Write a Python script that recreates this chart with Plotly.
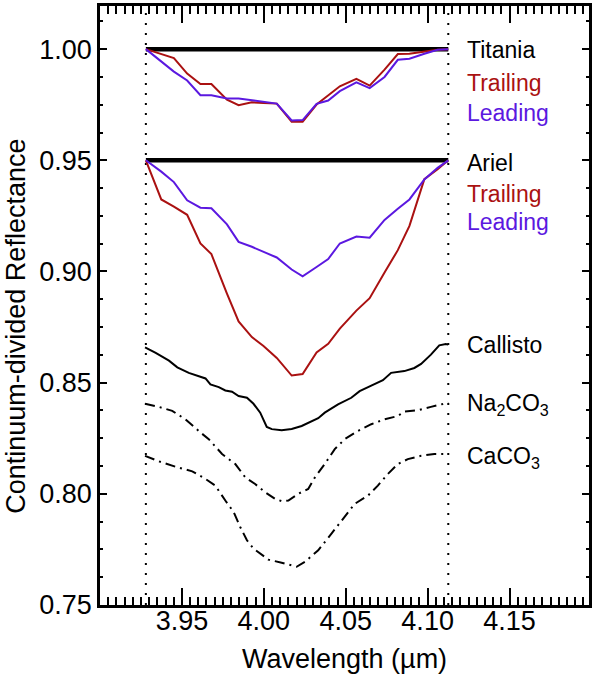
import plotly.graph_objects as go

FONT = "Liberation Sans, Arial, Helvetica, sans-serif"

# Band limits (continuum anchor points, dotted lines), micrometres
BAND_MIN = 3.928
BAND_MAX = 4.1126

# Uranian satellites: common wavelength grid
wl_uranian = [3.928, 3.9374, 3.9451, 3.9532, 3.9613, 3.9680, 3.9775, 3.9846,
              3.9927, 3.9998, 4.0079, 4.0170, 4.0237, 4.0322, 4.0393, 4.0464,
              4.0565, 4.0646, 4.0737, 4.0818, 4.0889, 4.0980, 4.1061, 4.1126]

titania_trailing = [1.0, 0.9978, 0.9960, 0.9890, 0.9843, 0.9843, 0.9773, 0.9748,
                    0.9761, 0.9758, 0.9755, 0.9673, 0.9673, 0.9751, 0.9793, 0.9833,
                    0.9866, 0.9836, 0.9908, 0.9978, 0.9979, 0.9990, 0.9997, 1.0]
titania_leading = [1.0, 0.9944, 0.9899, 0.9859, 0.9793, 0.9793, 0.9778, 0.9778,
                   0.9769, 0.9761, 0.9755, 0.9679, 0.9681, 0.9754, 0.9769, 0.9811,
                   0.9851, 0.9825, 0.9875, 0.9952, 0.9957, 0.9979, 0.9997, 1.0]

ariel_trailing = [0.95, 0.9324, 0.9292, 0.9255, 0.9126, 0.9078, 0.8900, 0.8775,
                  0.8705, 0.8665, 0.8611, 0.8532, 0.8539, 0.8636, 0.8675, 0.8743,
                  0.8824, 0.8880, 0.8995, 0.9096, 0.9205, 0.9415, 0.9460, 0.95]
ariel_leading = [0.95, 0.9449, 0.9402, 0.9320, 0.9287, 0.9284, 0.9212, 0.9133,
                 0.9111, 0.9088, 0.9063, 0.9009, 0.8978, 0.9020, 0.9056, 0.9126,
                 0.9157, 0.9152, 0.9232, 0.9282, 0.9324, 0.9414, 0.9466, 0.95]

titania_continuum = [1.0, 1.0]
ariel_continuum = [0.95, 0.95]

# Callisto
callisto_wl = [3.9275, 3.9340, 3.9421, 3.9472, 3.9542, 3.9613, 3.9644, 3.9674,
               3.9725, 3.9765, 3.9806, 3.9846, 3.9897, 3.9937, 3.9978, 4.0018,
               4.0049, 4.0109, 4.0170, 4.0231, 4.0291, 4.0332, 4.0372, 4.0453,
               4.0534, 4.0585, 4.0656, 4.0727, 4.0777, 4.0858, 4.0919, 4.0960,
               4.1020, 4.1071, 4.1111, 4.1126]
callisto_refl = [0.8659, 0.8634, 0.8599, 0.8569, 0.8544, 0.8525, 0.8519, 0.8492,
                 0.8480, 0.8465, 0.8459, 0.8440, 0.8432, 0.8405, 0.8365, 0.8301,
                 0.8291, 0.8286, 0.8292, 0.8305, 0.8328, 0.8340, 0.8365, 0.8402,
                 0.8432, 0.8462, 0.8487, 0.8511, 0.8544, 0.8552, 0.8566, 0.8584,
                 0.8626, 0.8668, 0.8674, 0.8671]

# Na2CO3 laboratory spectrum
na2co3_wl = [3.9275, 3.9360, 3.9441, 3.9522, 3.9613, 3.9664, 3.9745, 3.9826,
             3.9887, 3.9947, 4.0008, 4.0069, 4.0109, 4.0150, 4.0210, 4.0271,
             4.0312, 4.0372, 4.0433, 4.0494, 4.0575, 4.0656, 4.0737, 4.0818,
             4.0858, 4.0939, 4.1020, 4.1081, 4.1126]
na2co3_refl = [0.8405, 0.8391, 0.8373, 0.8335, 0.8276, 0.8246, 0.8179, 0.8134,
               0.8074, 0.8044, 0.8007, 0.7977, 0.7967, 0.7970, 0.8000, 0.8022,
               0.8074, 0.8134, 0.8201, 0.8246, 0.8283, 0.8313, 0.8335, 0.8350,
               0.8370, 0.8376, 0.8391, 0.8402, 0.8410]

# CaCO3 laboratory spectrum
caco3_wl = [3.9275, 3.9360, 3.9461, 3.9563, 3.9644, 3.9704, 3.9765, 3.9816,
            3.9856, 3.9897, 3.9937, 4.0028, 4.0109, 4.0200, 4.0251, 4.0332,
            4.0413, 4.0494, 4.0555, 4.0636, 4.0696, 4.0757, 4.0818, 4.0879,
            4.0960, 4.1041, 4.1126]
caco3_refl = [0.8171, 0.8146, 0.8122, 0.8101, 0.8067, 0.8037, 0.7970, 0.7918,
              0.7851, 0.7791, 0.7754, 0.7704, 0.7690, 0.7672, 0.7694, 0.7746,
              0.7821, 0.7895, 0.7955, 0.7992, 0.8037, 0.8089, 0.8134, 0.8156,
              0.8171, 0.8179, 0.8179]

# Ticks
x_ticks = [3.95, 4.00, 4.05, 4.10, 4.15]
x_ticklabels = ["3.95", "4.00", "4.05", "4.10", "4.15"]
y_ticks = [0.75, 0.80, 0.85, 0.90, 0.95, 1.00]
y_ticklabels = ["0.75", "0.80", "0.85", "0.90", "0.95", "1.00"]

# Right-hand labels
label_text = ["Titania", "Trailing", "Leading", "Ariel", "Trailing", "Leading",
              "Callisto", "Na<sub>2</sub>CO<sub>3</sub>", "CaCO<sub>3</sub>"]
label_y = [0.9995, 0.9849, 0.9715, 0.9489, 0.9349, 0.9222, 0.8671, 0.8403, 0.8164]
label_kind = ["black", "trailing", "leading", "black", "trailing", "leading",
              "black", "black", "black"]
LABEL_X = 4.1225

COLORS = {"black": "#000000", "trailing": "#AA1111", "leading": "#5B18E0"}

fig = go.Figure()

# continuum lines
for cont in (titania_continuum, ariel_continuum):
    fig.add_trace(go.Scatter(x=[BAND_MIN, BAND_MAX], y=cont, mode="lines",
                             line=dict(color="black", width=4.5), hoverinfo="skip"))

for ys, kind in ((titania_trailing, "trailing"), (titania_leading, "leading"),
                 (ariel_trailing, "trailing"), (ariel_leading, "leading")):
    fig.add_trace(go.Scatter(x=wl_uranian, y=ys, mode="lines",
                             line=dict(color=COLORS[kind], width=2)))

fig.add_trace(go.Scatter(x=callisto_wl, y=callisto_refl, mode="lines",
                         line=dict(color="black", width=2)))
fig.add_trace(go.Scatter(x=na2co3_wl, y=na2co3_refl, mode="lines",
                         line=dict(color="black", width=2, dash="10px,5px,2px,5px")))
fig.add_trace(go.Scatter(x=caco3_wl, y=caco3_refl, mode="lines",
                         line=dict(color="black", width=2, dash="10px,5px,2px,5px")))

shapes = []
for xv in (BAND_MIN, BAND_MAX):
    shapes.append(dict(type="line", xref="x", yref="paper", x0=xv, x1=xv, y0=0, y1=1,
                       line=dict(color="black", width=2, dash="2px,8px"), layer="below"))

annotations = []
for txt, yv, kind in zip(label_text, label_y, label_kind):
    annotations.append(dict(x=LABEL_X, y=yv, xref="x", yref="y", text=txt,
                            showarrow=False, xanchor="left", yanchor="middle",
                            font=dict(family=FONT, size=23, color=COLORS[kind])))

annotations.append(dict(x=0.5, y=-0.09, xref="paper", yref="paper",
                        text="Wavelength (µm)", showarrow=False,
                        xanchor="center", yanchor="middle",
                        font=dict(family=FONT, size=27, color="black")))
annotations.append(dict(x=-0.172, y=0.466, xref="paper", yref="paper",
                        text="Continuum-divided Reflectance", showarrow=False,
                        textangle=-90, xanchor="center", yanchor="middle",
                        font=dict(family=FONT, size=27, color="black")))

axis_common = dict(showgrid=False, zeroline=False, showline=True, linecolor="black",
                   linewidth=2.5, mirror="allticks", ticks="inside", tickcolor="black",
                   tickwidth=2, tickfont=dict(family=FONT, size=27, color="black"))

fig.update_layout(
    width=595, height=675,
    margin=dict(l=100, r=3, t=3, b=70),
    paper_bgcolor="white", plot_bgcolor="white",
    showlegend=False,
    shapes=shapes, annotations=annotations,
    xaxis=dict(range=[3.9, 4.1985], tickvals=x_ticks, ticktext=x_ticklabels,
               ticklen=17, ticklabelstandoff=-10,
               minor=dict(dtick=0.005, tick0=3.9, ticklen=8, ticks="inside",
                          tickcolor="black", tickwidth=2),
               **axis_common),
    yaxis=dict(range=[0.75, 1.0194], tickvals=y_ticks, ticktext=y_ticklabels,
               ticklen=7,
               minor=dict(dtick=0.0125, tick0=0.75, ticklen=3, ticks="inside",
                          tickcolor="black", tickwidth=2),
               **axis_common),
)

fig.write_html("out.html", config={"displayModeBar": False},
               post_script="document.body.style.margin='0px';")
